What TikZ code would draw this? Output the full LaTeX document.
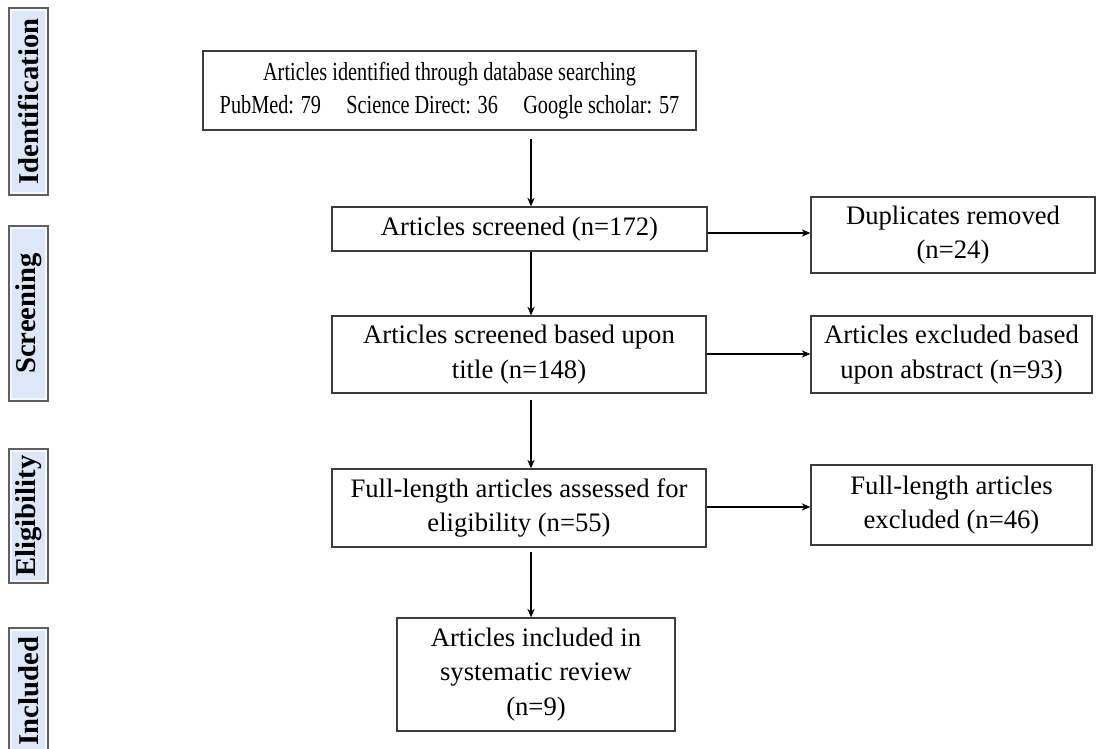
\documentclass[tikz,border=0pt]{standalone}
\usepackage{fontspec}
\setmainfont{Liberation Serif}
\newfontfamily\narrowserif[FakeStretch=0.78]{Liberation Serif}
\usepackage{xcolor}
\definecolor{boxline}{RGB}{60,60,60}
\definecolor{stageline}{RGB}{95,95,95}
\definecolor{stagefill}{RGB}{220,232,247}
\usetikzlibrary{arrows.meta, positioning}

\begin{document}
\begin{tikzpicture}[
  x=0.75pt, y=-0.75pt,
  flowbox/.style={rectangle, draw=boxline, line width=0.9pt, inner sep=0pt,
                  align=center, font=\fontsize{20}{26}\selectfont},
  stagebox/.style={rectangle, draw=stageline, line width=0.9pt, fill=stagefill,
                   inner sep=0pt, rotate=90, minimum height=29.25pt,
                   font=\fontsize{21.5}{24}\selectfont\bfseries,
                   path picture={\draw[white, line width=4pt, opacity=0.75]
                     (path picture bounding box.south west) rectangle
                     (path picture bounding box.north east);}},
  conn/.style={-{Stealth[length=6.5pt, width=5.5pt]}, line width=1pt, draw=black}
]
\useasboundingbox (0,0) rectangle (1097,749);

% stage labels on the left
\node[stagebox, minimum width=140.25pt] (sident) at (28.5,101.5) {Identification};
\node[stagebox, minimum width=131.25pt] (sscreen) at (28.5,313.5) {Screening};
\node[stagebox, minimum width=100.5pt]  (selig) at (28.5,516) {Eligibility};
\node[stagebox, minimum width=94.5pt]   (sincl) at (28.5,691) {Included};

% main column
\node[flowbox, minimum width=369.75pt, minimum height=59.25pt,
      font=\fontsize{19.5}{24.75}\selectfont\narrowserif] (ident) at (449.5,90.5)
  {Articles identified through database searching\\
   PubMed: 79\hspace{19pt}Science Direct: 36\hspace{19pt}Google scholar: 57};
\node[flowbox, minimum width=281.25pt, minimum height=33pt] (screen) at (519.5,229)
  {Articles screened (n=172)};
\node[flowbox, minimum width=280.5pt, minimum height=57.75pt] (title) at (519,354.5)
  {Articles screened based upon\\title (n=148)};
\node[flowbox, minimum width=280.5pt, minimum height=58.5pt] (full) at (519,508)
  {Full-length articles assessed for\\eligibility (n=55)};
\node[flowbox, minimum width=208.5pt, minimum height=84.75pt] (incl) at (536,674.5)
  {Articles included in\\systematic review\\(n=9)};

% excluded column
\node[flowbox, minimum width=213pt, minimum height=57pt] (dup) at (953,235)
  {Duplicates removed\\(n=24)};
\node[flowbox, minimum width=210.75pt, minimum height=57.75pt] (abs) at (951.5,354.5)
  {Articles excluded based\\upon abstract (n=93)};
\node[flowbox, minimum width=210.75pt, minimum height=60pt] (fex) at (951.5,505)
  {Full-length articles\\excluded (n=46)};

\coordinate (spine) at (531,0);

\draw[conn] ([yshift=-6pt]ident.south -| spine) -- (screen.north -| spine);
\draw[conn] (screen.south -| spine) -- (title.north -| spine);
\draw[conn] ([yshift=-5pt]title.south -| spine) -- (full.north -| spine);
\draw[conn] ([yshift=-3pt]full.south -| spine) -- (incl.north -| spine);

\draw[conn] (screen.east |- 0,233) -- (dup.west |- 0,233);
\draw[conn] (title.east |- 0,354) -- (abs.west |- 0,354);
\draw[conn] (full.east |- 0,507) -- (fex.west |- 0,507);
\end{tikzpicture}
\end{document}
